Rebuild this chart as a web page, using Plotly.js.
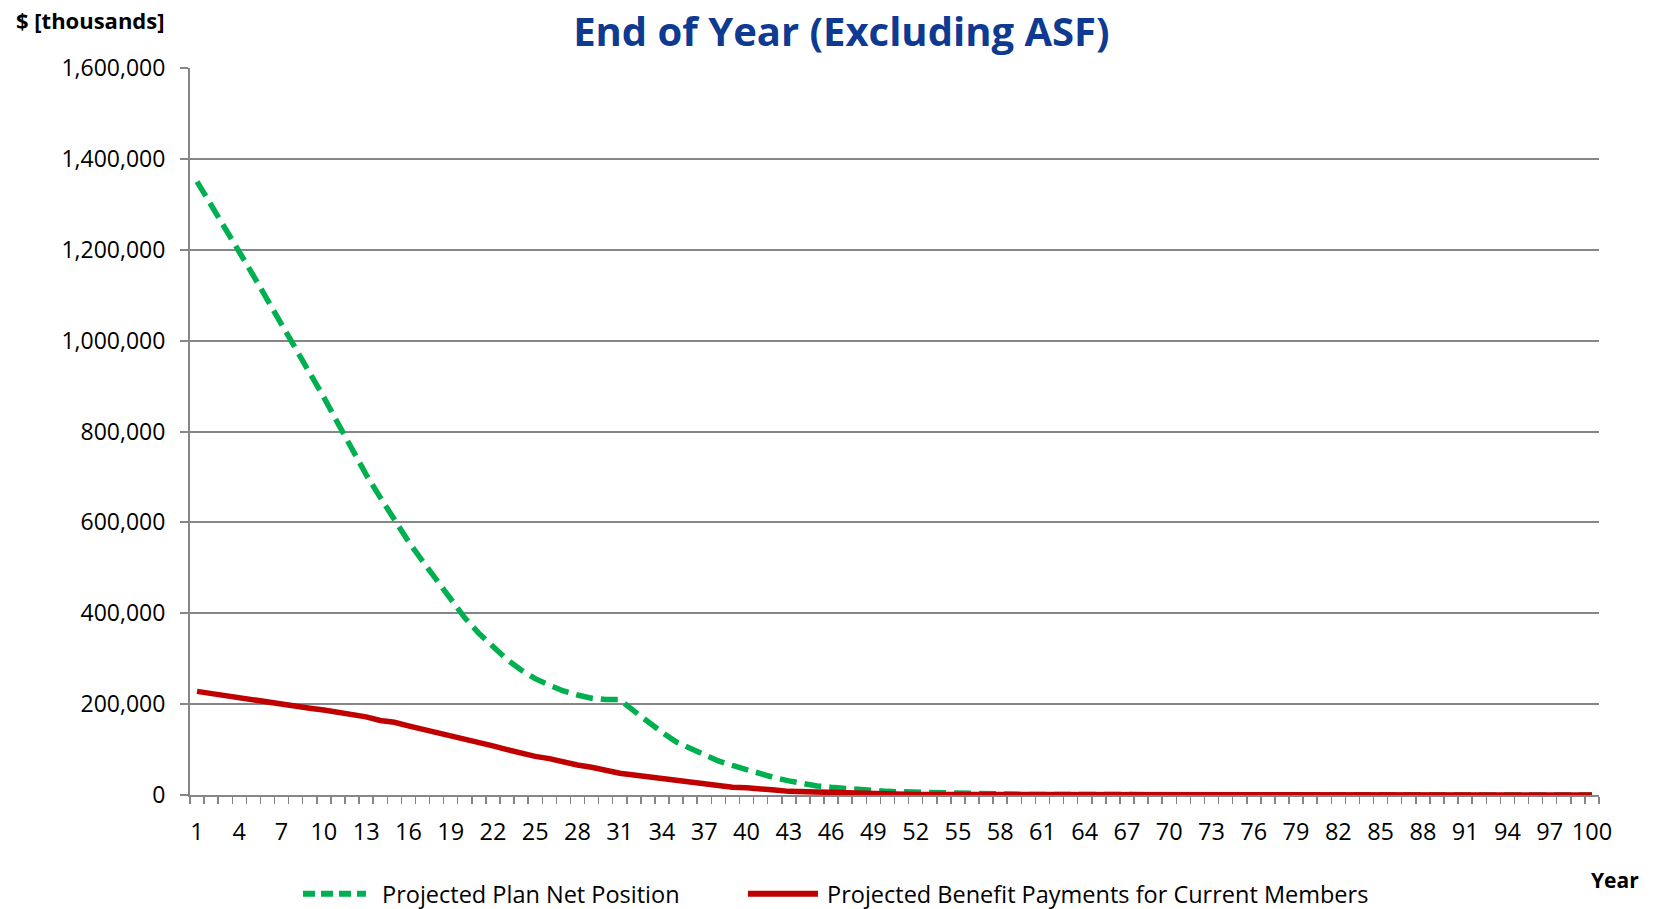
<!DOCTYPE html>
<html>
<head>
<meta charset="utf-8">
<script src="https://cdn.plot.ly/plotly-3.0.1.min.js"></script>
<style>html,body{margin:0;padding:0;background:#fff;}#chart{width:1653px;height:909px;}</style>
</head>
<body>
<div id="chart"></div>
<script>
// Years 1..100
const years = Array.from({length: 100}, (_, i) => i + 1);

// Projected Plan Net Position ($ thousands)
const netPosition = [
  1350, 1300, 1248, 1195, 1143, 1090, 1040, 985, 930, 875,
  818, 760, 705, 655, 605, 558, 515, 472, 428, 390,
  356, 325, 298, 275, 256, 242, 229, 220, 213, 210,
  210, 185, 160, 138, 117, 102, 88, 75, 65, 55,
  46, 38, 31, 25, 20, 17, 14, 12, 10, 8,
  7, 6, 5, 4, 4, 3, 2, 2, 1, 1,
  1, 1, 1, 0, 0, 0, 0, 0, 0, 0,
  0, 0, 0, 0, 0, 0, 0, 0, 0, 0,
  0, 0, 0, 0, 0, 0, 0, 0, 0, 0,
  0, 0, 0, 0, 0, 0, 0, 0, 0, 0
].map(v => v * 1000);

// Projected Benefit Payments for Current Members ($ thousands)
const benefitPayments = [
  228, 223, 218, 213, 208, 204, 199, 195, 191, 187,
  183, 176, 172, 164, 160, 152, 145, 139, 131, 123,
  116, 108, 100, 92, 85, 80, 72, 66, 61, 54,
  48, 44, 40, 35, 30, 26, 22, 21, 17, 16,
  12, 11, 8, 7, 5, 4, 3, 3, 2, 2,
  1, 1, 1, 1, 1, 0.5, 0.5, 0.5, 0.5, 0.5,
  0, 0, 0, 0, 0, 0, 0, 0, 0, 0,
  0, 0, 0, 0, 0, 0, 0, 0, 0, 0,
  0, 0, 0, 0, 0, 0, 0, 0, 0, 0,
  0, 0, 0, 0, 0, 0, 0, 0, 0, 0
].map(v => v * 1000);

const seriesNames = ['Projected Plan Net Position', 'Projected Benefit Payments for Current Members'];
const xTickVals = [1,4,7,10,13,16,19,22,25,28,31,34,37,40,43,46,49,52,55,58,61,64,67,70,73,76,79,82,85,88,91,94,97,100];
const xTickText = xTickVals.map(String);
const yTickVals = [0, 200000, 400000, 600000, 800000, 1000000, 1200000, 1400000, 1600000];

const FONT = '"Open Sans", "Noto Sans", sans-serif';
const GRAY = '#868686';
const GREEN = '#00b050';
const RED = '#c00000';

const traces = [
  {
    x: years, y: netPosition, type: 'scatter', mode: 'lines',
    name: seriesNames[0],
    line: {color: GREEN, width: 5.5, dash: '17px,8px'}
  },
  {
    x: years, y: benefitPayments, type: 'scatter', mode: 'lines',
    name: seriesNames[1],
    line: {color: RED, width: 5.5}
  }
];

// Legend drawn as paper-referenced shapes + text (bottom of chart)
const legY = -0.136;
const layout = {
  width: 1653, height: 909,
  paper_bgcolor: '#fff', plot_bgcolor: '#fff',
  margin: {l: 190, r: 54, t: 68, b: 114},
  font: {family: FONT, size: 23.5, color: '#000'},
  title: {
    text: '<b>End of Year (Excluding ASF)</b>',
    font: {family: FONT, size: 40, color: '#0e3a91'},
    x: 0.509, xanchor: 'center', xref: 'container',
    y: 0.965, yanchor: 'middle', yref: 'container'
  },
  xaxis: {
    range: [0.5, 100.5],
    tickmode: 'array', tickvals: xTickVals, ticktext: xTickText,
    ticks: '', ticklabelstandoff: 15,
    showline: true, linecolor: GRAY, linewidth: 2,
    showgrid: false, zeroline: false,
    tickfont: {family: FONT, size: 23.5, color: '#000'},
    minor: {tickmode: 'linear', tick0: 0.5, dtick: 1, ticks: 'outside', ticklen: 7, tickcolor: GRAY, tickwidth: 1.5, showgrid: false}
  },
  yaxis: {
    range: [0, 1600000],
    tickmode: 'array', tickvals: yTickVals,
    tickformat: ',d',
    ticks: 'outside', ticklen: 8, tickcolor: GRAY, tickwidth: 2,
    ticklabelstandoff: 10,
    showline: true, linecolor: GRAY, linewidth: 2,
    showgrid: true, gridcolor: GRAY, gridwidth: 2,
    zeroline: false,
    tickfont: {family: FONT, size: 23, color: '#000'}
  },
  showlegend: false,
  shapes: [
    {type: 'line', xref: 'paper', yref: 'paper', x0: 0.0802, x1: 0.1249, y0: legY, y1: legY,
     line: {color: GREEN, width: 6, dash: '12px,6px'}},
    {type: 'line', xref: 'paper', yref: 'paper', x0: 0.396, x1: 0.4457, y0: legY, y1: legY,
     line: {color: RED, width: 6}}
  ],
  annotations: [
    {
      text: seriesNames[0], xref: 'paper', yref: 'paper',
      x: 0.1348, y: legY, xanchor: 'left', yanchor: 'middle',
      showarrow: false, font: {family: FONT, size: 23.5, color: '#000'}
    },
    {
      text: seriesNames[1], xref: 'paper', yref: 'paper',
      x: 0.4507, y: legY, xanchor: 'left', yanchor: 'middle',
      showarrow: false, font: {family: FONT, size: 23.5, color: '#000'}
    },
    {
      text: '<b>$ [thousands]</b>', xref: 'paper', yref: 'paper',
      x: 0, y: 1, xshift: -176, yshift: 48, xanchor: 'left', yanchor: 'middle',
      showarrow: false, font: {family: FONT, size: 22, color: '#000'}
    },
    {
      text: '<b>Year</b>', xref: 'paper', yref: 'paper',
      x: 1, y: 0, xshift: 42, yshift: -85, xanchor: 'right', yanchor: 'middle',
      showarrow: false, font: {family: FONT, size: 21, color: '#000'}
    }
  ]
};

Plotly.newPlot('chart', traces, layout, {displayModeBar: false, staticPlot: true});
</script>
</body>
</html>
